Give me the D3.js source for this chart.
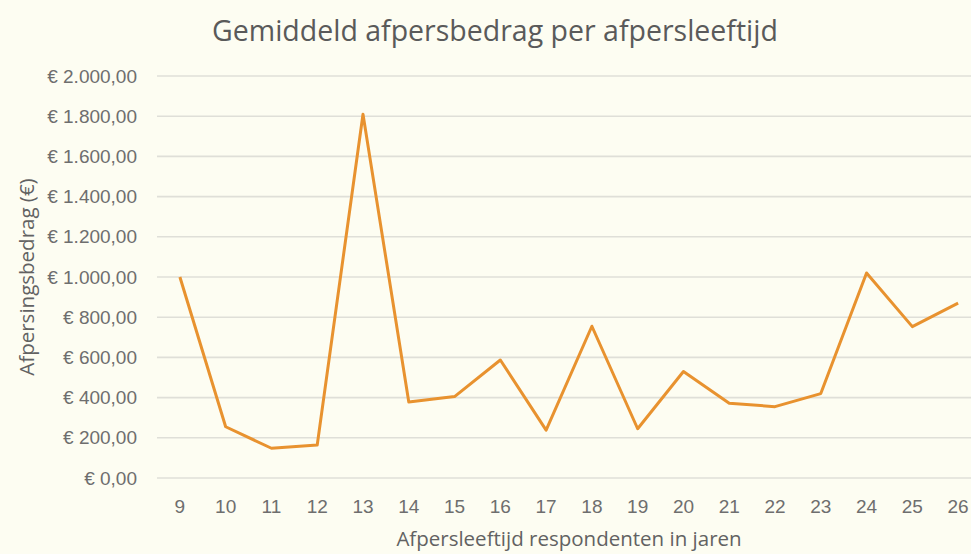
<!DOCTYPE html>
<html>
<head>
<meta charset="utf-8">
<script src="https://cdn.jsdelivr.net/npm/d3@7"></script>
<style>
  html, body { margin: 0; padding: 0; background: #fdfdf2; }
  svg { display: block; font-family: "Open Sans", Lato, sans-serif; }
  .grid-line { stroke: #dfdfd8; stroke-width: 1.6; }
  .tick-text { fill: #6e6e6e; font-size: 19px; }
  .axis-label { fill: #626262; font-size: 20.5px; }
  .title { fill: #5a5a5a; font-size: 28.5px; }
</style>
</head>
<body>
<svg id="chart" width="971" height="554"></svg>
<script>
const ages = ['9','10','11','12','13','14','15','16','17','18','19','20','21','22','23','24','25','26'];
const amounts = [1000, 255, 148, 164, 1810, 378, 405, 587, 238, 755, 245, 530, 372, 355, 420, 1020, 753, 870];
const yTicks = [0, 200, 400, 600, 800, 1000, 1200, 1400, 1600, 1800, 2000];

const W = 971, H = 554;
const margin = { top: 76, right: -10, bottom: 76, left: 157 };
const iW = W - margin.left - margin.right;
const iH = H - margin.top - margin.bottom;

const svg = d3.select('#chart');

const x = d3.scaleBand().domain(ages).range([0, iW]);
const y = d3.scaleLinear().domain([0, 2000]).range([iH, 0]);

// Dutch currency format: € 1.800,00
const fmt = v => '€ ' + d3.format(',.2f')(v).replace(/,/g, '#').replace('.', ',').replace(/#/g, '.');

const g = svg.append('g').attr('transform', `translate(${margin.left},${margin.top})`);

// grid
g.append('g')
  .selectAll('line')
  .data(yTicks)
  .join('line').attr('class', 'grid-line')
  .attr('x1', 0).attr('x2', iW)
  .attr('y1', d => y(d)).attr('y2', d => y(d));

// axes
const yAxis = g.append('g')
  .call(d3.axisLeft(y).tickValues(yTicks).tickSize(0).tickPadding(20).tickFormat(fmt));
yAxis.select('.domain').remove();
yAxis.selectAll('text').attr('class', 'tick-text').attr('font-family', null).attr('font-size', null);

const xAxis = g.append('g')
  .attr('transform', `translate(0,${iH})`)
  .call(d3.axisBottom(x).tickSize(0).tickPadding(22));
xAxis.select('.domain').remove();
xAxis.selectAll('text').attr('class', 'tick-text').attr('font-family', null).attr('font-size', null);

// line
const line = d3.line()
  .x((d, i) => x(ages[i]) + x.bandwidth() / 2)
  .y(d => y(d));

g.append('path')
  .datum(amounts)
  .attr('fill', 'none')
  .attr('stroke', '#e8922f')
  .attr('stroke-width', 3)
  .attr('stroke-linejoin', 'round')
  .attr('d', line);

// titles
svg.append('text').attr('class', 'title')
  .attr('x', 495).attr('y', 41)
  .attr('text-anchor', 'middle')
  .text('Gemiddeld afpersbedrag per afpersleeftijd');

svg.append('text').attr('class', 'axis-label')
  .attr('x', margin.left + iW / 2).attr('y', 546)
  .attr('text-anchor', 'middle')
  .text('Afpersleeftijd respondenten in jaren');

svg.append('text').attr('class', 'axis-label')
  .attr('transform', 'rotate(-90)')
  .attr('x', -(margin.top + iH / 2)).attr('y', 34)
  .attr('text-anchor', 'middle')
  .text('Afpersingsbedrag (€)');
</script>
</body>
</html>
